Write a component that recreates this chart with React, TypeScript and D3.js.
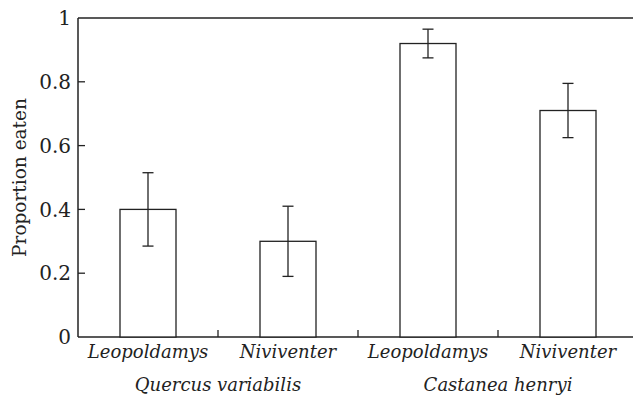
import React from 'react'
import * as d3 from 'd3'

const W = 633
const H = 397
const M = { left: 78, top: 18, bottom: 337, right: 638 }

// one bar per rodent x seed species
const categories = ['Q-Leo', 'Q-Niv', 'C-Leo', 'C-Niv']
const rodentLabels = ['Leopoldamys', 'Niviventer', 'Leopoldamys', 'Niviventer']
const means = [0.4, 0.3, 0.92, 0.71]
const lower = [0.285, 0.19, 0.875, 0.625]
const upper = [0.515, 0.41, 0.965, 0.795]
const seedGroups = ['Quercus variabilis', 'Castanea henryi']
const yTicks = [0, 0.2, 0.4, 0.6, 0.8, 1]

const FONT = '"DejaVu Serif", serif'
const INK = '#222'

const App = () => {
  const x = d3
    .scaleBand()
    .domain(categories)
    .range([M.left, M.right])
    .paddingInner(0.6)
    .paddingOuter(0.3)

  const y = d3.scaleLinear().domain([0, 1]).range([M.bottom, M.top])
  const step = x.step()
  const bw = x.bandwidth()

  // boundaries between bands, where the small inner ticks sit
  const bounds = categories.slice(1).map(c => (x(c) as number) - (step - bw) / 2)

  return (
    <svg
      width={W}
      height={H}
      style={{ position: 'absolute', left: 0, top: 0, background: '#fff' }}
    >
      {/* frame */}
      <line x1={M.left} x2={W} y1={y(1)} y2={y(1)} stroke={INK} strokeWidth={1.5} />
      <line x1={M.left} x2={W} y1={y(0)} y2={y(0)} stroke={INK} strokeWidth={1.5} />
      <line x1={M.left} x2={M.left} y1={y(1)} y2={y(0)} stroke={INK} strokeWidth={1.5} />

      {/* y ticks */}
      {yTicks.map(t => (
        <g key={t}>
          {t > 0 && t < 1 && (
            <line x1={M.left} x2={M.left + 7} y1={y(t)} y2={y(t)} stroke={INK} strokeWidth={1.3} />
          )}
          <text
            x={71}
            y={y(t)}
            dy="0.36em"
            textAnchor="end"
            fontFamily={FONT}
            fontSize={20}
            fill={INK}
          >
            {d3.format('~g')(t)}
          </text>
        </g>
      ))}

      <text
        transform={`translate(26,${(M.top + M.bottom) / 2}) rotate(-90)`}
        textAnchor="middle"
        fontFamily={FONT}
        fontSize={18.5}
        fill={INK}
      >
        Proportion eaten
      </text>

      {/* x ticks */}
      {bounds.map((b, i) => (
        <line key={i} x1={b} x2={b} y1={y(0)} y2={y(0) - 7} stroke={INK} strokeWidth={1.3} />
      ))}

      {/* bars */}
      {categories.map((c, i) => {
        const x0 = x(c) as number
        const cx = x0 + bw / 2
        return (
          <g key={c}>
            <rect
              x={x0}
              y={y(means[i])}
              width={bw}
              height={y(0) - y(means[i])}
              fill="#fff"
              stroke={INK}
              strokeWidth={1.3}
            />
            <line x1={cx} x2={cx} y1={y(upper[i])} y2={y(lower[i])} stroke={INK} strokeWidth={1.3} />
            <line x1={cx - 5.5} x2={cx + 5.5} y1={y(upper[i])} y2={y(upper[i])} stroke={INK} strokeWidth={1.3} />
            <line x1={cx - 5.5} x2={cx + 5.5} y1={y(lower[i])} y2={y(lower[i])} stroke={INK} strokeWidth={1.3} />
            <text
              x={cx}
              y={358}
              textAnchor="middle"
              fontFamily={FONT}
              fontStyle="italic"
              fontSize={18}
              fill={INK}
            >
              {rodentLabels[i]}
            </text>
          </g>
        )
      })}

      {seedGroups.map((g, i) => (
        <text
          key={g}
          x={bounds[i * 2]}
          y={391}
          textAnchor="middle"
          fontFamily={FONT}
          fontStyle="italic"
          fontSize={18}
          fill={INK}
        >
          {g}
        </text>
      ))}
    </svg>
  )
}

export default App
